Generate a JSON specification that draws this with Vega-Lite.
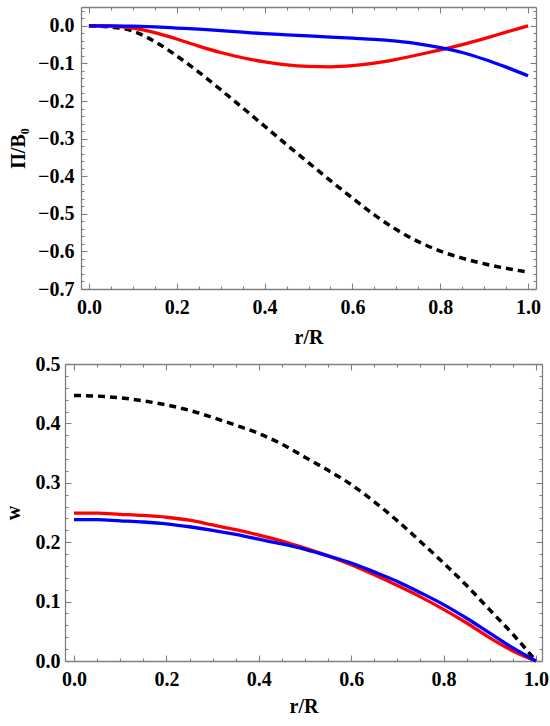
{
  "$schema": "https://vega.github.io/schema/vega-lite/v6.json",
  "background": "#ffffff",
  "padding": {"left": 3, "top": 6, "right": 4, "bottom": 0},
  "spacing": 7,
  "config": {
    "view": {"stroke": null},
    "line": {"interpolate": "monotone"},
    "axis": {
      "labelFont": "Liberation Serif",
      "labelFontWeight": "bold",
      "labelFontSize": 20,
      "labelColor": "#000000",
      "titleFont": "Liberation Serif",
      "titleFontWeight": "bold",
      "titleFontSize": 20,
      "titleColor": "#000000",
      "grid": false,
      "domain": false,
      "domainColor": "#808080",
      "domainWidth": 1.3,
      "labelFlush": false,
      "labelOverlap": false,
      "labelBound": false,
      "tickColor": "#808080",
      "tickWidth": 1.1
    }
  },
  "datasets": {
    "curves": [
      {"panel": "top", "series": "dashed", "r": 0.0, "value": 0.0},
      {"panel": "top", "series": "dashed", "r": 0.05, "value": -0.003},
      {"panel": "top", "series": "dashed", "r": 0.1, "value": -0.014},
      {"panel": "top", "series": "dashed", "r": 0.15, "value": -0.042},
      {"panel": "top", "series": "dashed", "r": 0.2, "value": -0.08},
      {"panel": "top", "series": "dashed", "r": 0.25, "value": -0.123},
      {"panel": "top", "series": "dashed", "r": 0.3, "value": -0.17},
      {"panel": "top", "series": "dashed", "r": 0.35, "value": -0.218},
      {"panel": "top", "series": "dashed", "r": 0.4, "value": -0.267},
      {"panel": "top", "series": "dashed", "r": 0.45, "value": -0.316},
      {"panel": "top", "series": "dashed", "r": 0.5, "value": -0.364},
      {"panel": "top", "series": "dashed", "r": 0.55, "value": -0.412},
      {"panel": "top", "series": "dashed", "r": 0.6, "value": -0.458},
      {"panel": "top", "series": "dashed", "r": 0.65, "value": -0.503},
      {"panel": "top", "series": "dashed", "r": 0.7, "value": -0.542},
      {"panel": "top", "series": "dashed", "r": 0.75, "value": -0.574},
      {"panel": "top", "series": "dashed", "r": 0.8, "value": -0.599},
      {"panel": "top", "series": "dashed", "r": 0.85, "value": -0.618},
      {"panel": "top", "series": "dashed", "r": 0.9, "value": -0.633},
      {"panel": "top", "series": "dashed", "r": 0.95, "value": -0.645},
      {"panel": "top", "series": "dashed", "r": 1.0, "value": -0.655},
      {"panel": "top", "series": "red", "r": 0.0, "value": 0.0},
      {"panel": "top", "series": "red", "r": 0.05, "value": -0.001},
      {"panel": "top", "series": "red", "r": 0.1, "value": -0.006},
      {"panel": "top", "series": "red", "r": 0.15, "value": -0.018},
      {"panel": "top", "series": "red", "r": 0.2, "value": -0.035},
      {"panel": "top", "series": "red", "r": 0.25, "value": -0.054},
      {"panel": "top", "series": "red", "r": 0.3, "value": -0.071},
      {"panel": "top", "series": "red", "r": 0.35, "value": -0.085},
      {"panel": "top", "series": "red", "r": 0.4, "value": -0.096},
      {"panel": "top", "series": "red", "r": 0.45, "value": -0.104},
      {"panel": "top", "series": "red", "r": 0.5, "value": -0.108},
      {"panel": "top", "series": "red", "r": 0.55, "value": -0.109},
      {"panel": "top", "series": "red", "r": 0.6, "value": -0.106},
      {"panel": "top", "series": "red", "r": 0.65, "value": -0.099},
      {"panel": "top", "series": "red", "r": 0.7, "value": -0.089},
      {"panel": "top", "series": "red", "r": 0.75, "value": -0.077},
      {"panel": "top", "series": "red", "r": 0.8, "value": -0.064},
      {"panel": "top", "series": "red", "r": 0.85, "value": -0.05},
      {"panel": "top", "series": "red", "r": 0.9, "value": -0.034},
      {"panel": "top", "series": "red", "r": 0.95, "value": -0.017},
      {"panel": "top", "series": "red", "r": 1.0, "value": 0.0},
      {"panel": "top", "series": "blue", "r": 0.0, "value": 0.0},
      {"panel": "top", "series": "blue", "r": 0.05, "value": 0.0},
      {"panel": "top", "series": "blue", "r": 0.1, "value": -0.001},
      {"panel": "top", "series": "blue", "r": 0.15, "value": -0.003},
      {"panel": "top", "series": "blue", "r": 0.2, "value": -0.006},
      {"panel": "top", "series": "blue", "r": 0.25, "value": -0.009},
      {"panel": "top", "series": "blue", "r": 0.3, "value": -0.013},
      {"panel": "top", "series": "blue", "r": 0.35, "value": -0.017},
      {"panel": "top", "series": "blue", "r": 0.4, "value": -0.021},
      {"panel": "top", "series": "blue", "r": 0.45, "value": -0.024},
      {"panel": "top", "series": "blue", "r": 0.5, "value": -0.027},
      {"panel": "top", "series": "blue", "r": 0.55, "value": -0.03},
      {"panel": "top", "series": "blue", "r": 0.6, "value": -0.033},
      {"panel": "top", "series": "blue", "r": 0.65, "value": -0.036},
      {"panel": "top", "series": "blue", "r": 0.7, "value": -0.041},
      {"panel": "top", "series": "blue", "r": 0.75, "value": -0.048},
      {"panel": "top", "series": "blue", "r": 0.8, "value": -0.058},
      {"panel": "top", "series": "blue", "r": 0.85, "value": -0.071},
      {"panel": "top", "series": "blue", "r": 0.9, "value": -0.089},
      {"panel": "top", "series": "blue", "r": 0.95, "value": -0.11},
      {"panel": "top", "series": "blue", "r": 1.0, "value": -0.133},
      {"panel": "bottom", "series": "dashed", "r": 0.0, "value": 0.447},
      {"panel": "bottom", "series": "dashed", "r": 0.05, "value": 0.446},
      {"panel": "bottom", "series": "dashed", "r": 0.1, "value": 0.443},
      {"panel": "bottom", "series": "dashed", "r": 0.15, "value": 0.438},
      {"panel": "bottom", "series": "dashed", "r": 0.2, "value": 0.431},
      {"panel": "bottom", "series": "dashed", "r": 0.25, "value": 0.422},
      {"panel": "bottom", "series": "dashed", "r": 0.3, "value": 0.41},
      {"panel": "bottom", "series": "dashed", "r": 0.35, "value": 0.397},
      {"panel": "bottom", "series": "dashed", "r": 0.4, "value": 0.383},
      {"panel": "bottom", "series": "dashed", "r": 0.45, "value": 0.365},
      {"panel": "bottom", "series": "dashed", "r": 0.5, "value": 0.343},
      {"panel": "bottom", "series": "dashed", "r": 0.55, "value": 0.321},
      {"panel": "bottom", "series": "dashed", "r": 0.6, "value": 0.297},
      {"panel": "bottom", "series": "dashed", "r": 0.65, "value": 0.268},
      {"panel": "bottom", "series": "dashed", "r": 0.7, "value": 0.236},
      {"panel": "bottom", "series": "dashed", "r": 0.75, "value": 0.201},
      {"panel": "bottom", "series": "dashed", "r": 0.8, "value": 0.165},
      {"panel": "bottom", "series": "dashed", "r": 0.85, "value": 0.127},
      {"panel": "bottom", "series": "dashed", "r": 0.9, "value": 0.086},
      {"panel": "bottom", "series": "dashed", "r": 0.95, "value": 0.045},
      {"panel": "bottom", "series": "dashed", "r": 1.0, "value": 0.0},
      {"panel": "bottom", "series": "red", "r": 0.0, "value": 0.249},
      {"panel": "bottom", "series": "red", "r": 0.05, "value": 0.249},
      {"panel": "bottom", "series": "red", "r": 0.1, "value": 0.247},
      {"panel": "bottom", "series": "red", "r": 0.15, "value": 0.245},
      {"panel": "bottom", "series": "red", "r": 0.2, "value": 0.242},
      {"panel": "bottom", "series": "red", "r": 0.25, "value": 0.237},
      {"panel": "bottom", "series": "red", "r": 0.3, "value": 0.229},
      {"panel": "bottom", "series": "red", "r": 0.35, "value": 0.221},
      {"panel": "bottom", "series": "red", "r": 0.4, "value": 0.212},
      {"panel": "bottom", "series": "red", "r": 0.45, "value": 0.202},
      {"panel": "bottom", "series": "red", "r": 0.5, "value": 0.19},
      {"panel": "bottom", "series": "red", "r": 0.55, "value": 0.177},
      {"panel": "bottom", "series": "red", "r": 0.6, "value": 0.162},
      {"panel": "bottom", "series": "red", "r": 0.65, "value": 0.145},
      {"panel": "bottom", "series": "red", "r": 0.7, "value": 0.127},
      {"panel": "bottom", "series": "red", "r": 0.75, "value": 0.108},
      {"panel": "bottom", "series": "red", "r": 0.8, "value": 0.087},
      {"panel": "bottom", "series": "red", "r": 0.85, "value": 0.064},
      {"panel": "bottom", "series": "red", "r": 0.9, "value": 0.039},
      {"panel": "bottom", "series": "red", "r": 0.95, "value": 0.017},
      {"panel": "bottom", "series": "red", "r": 1.0, "value": 0.0},
      {"panel": "bottom", "series": "blue", "r": 0.0, "value": 0.238},
      {"panel": "bottom", "series": "blue", "r": 0.05, "value": 0.238},
      {"panel": "bottom", "series": "blue", "r": 0.1, "value": 0.236},
      {"panel": "bottom", "series": "blue", "r": 0.15, "value": 0.234},
      {"panel": "bottom", "series": "blue", "r": 0.2, "value": 0.231},
      {"panel": "bottom", "series": "blue", "r": 0.25, "value": 0.226},
      {"panel": "bottom", "series": "blue", "r": 0.3, "value": 0.22},
      {"panel": "bottom", "series": "blue", "r": 0.35, "value": 0.213},
      {"panel": "bottom", "series": "blue", "r": 0.4, "value": 0.205},
      {"panel": "bottom", "series": "blue", "r": 0.45, "value": 0.197},
      {"panel": "bottom", "series": "blue", "r": 0.5, "value": 0.188},
      {"panel": "bottom", "series": "blue", "r": 0.55, "value": 0.177},
      {"panel": "bottom", "series": "blue", "r": 0.6, "value": 0.165},
      {"panel": "bottom", "series": "blue", "r": 0.65, "value": 0.15},
      {"panel": "bottom", "series": "blue", "r": 0.7, "value": 0.134},
      {"panel": "bottom", "series": "blue", "r": 0.75, "value": 0.115},
      {"panel": "bottom", "series": "blue", "r": 0.8, "value": 0.095},
      {"panel": "bottom", "series": "blue", "r": 0.85, "value": 0.072},
      {"panel": "bottom", "series": "blue", "r": 0.9, "value": 0.047},
      {"panel": "bottom", "series": "blue", "r": 0.95, "value": 0.022},
      {"panel": "bottom", "series": "blue", "r": 1.0, "value": 0.0}
    ]
  },
  "data": {"name": "curves"},
  "vconcat": [
    {
      "width": 477,
      "height": 282,
      "transform": [{"filter": "datum.panel === 'top'"}],
      "resolve": {"axis": {"x": "independent", "y": "independent"}},
      "layer": [
        {
          "transform": [{"filter": "datum.series === 'dashed'"}],
          "mark": {"type": "line", "color": "#000000", "strokeWidth": 3.5, "strokeDash": [7, 5]},
          "encoding": {
            "x": {"field": "r", "type": "quantitative",
              "scale": {"domain": [-0.018, 1.018], "range": [16, 471], "nice": false, "zero": false},
              "axis": {"orient": "bottom", "values": [0, 0.2, 0.4, 0.6, 0.8, 1], "format": ".1f", "ticks": false, "domain": true, "labelPadding": 8, "title": "r/R", "titlePadding": 10}},
            "y": {"field": "value", "type": "quantitative",
              "scale": {"domain": [-0.7, 0.05], "nice": false, "zero": false},
              "axis": {"orient": "left", "offset": -16, "values": [-0.7, -0.6, -0.5, -0.4, -0.3, -0.2, -0.1, 0], "format": ".1f", "ticks": false, "domain": true, "labelPadding": 7, "title": "Π/B₀", "titlePadding": 9}}
          }
        },
        {
          "transform": [{"filter": "datum.series === 'red'"}],
          "mark": {"type": "line", "color": "#ff0000", "strokeWidth": 3.3},
          "encoding": {
            "x": {"field": "r", "type": "quantitative",
              "axis": {"orient": "bottom", "values": [0, 0.2, 0.4, 0.6, 0.8, 1], "labels": false, "tickSize": 6, "offset": -6, "title": null}},
            "y": {"field": "value", "type": "quantitative",
              "axis": {"orient": "left", "values": [-0.7, -0.6, -0.5, -0.4, -0.3, -0.2, -0.1, 0], "labels": false, "tickSize": 6, "offset": -22, "title": null}}
          }
        },
        {
          "transform": [{"filter": "datum.series === 'blue'"}],
          "mark": {"type": "line", "color": "#0000ff", "strokeWidth": 3.3},
          "encoding": {
            "x": {"field": "r", "type": "quantitative",
              "axis": {"orient": "bottom", "values": [0.05, 0.1, 0.15, 0.25, 0.3, 0.35, 0.45, 0.5, 0.55, 0.65, 0.7, 0.75, 0.85, 0.9, 0.95], "labels": false, "tickSize": 3, "offset": -3, "title": null}},
            "y": {"field": "value", "type": "quantitative",
              "axis": {"orient": "left", "values": [-0.68, -0.66, -0.64, -0.62, -0.58, -0.56, -0.54, -0.52, -0.48, -0.46, -0.44, -0.42, -0.38, -0.36, -0.34, -0.32, -0.28, -0.26, -0.24, -0.22, -0.18, -0.16, -0.14, -0.12, -0.08, -0.06, -0.04, -0.02, 0.02, 0.04], "labels": false, "tickSize": 3, "offset": -19, "title": null}}
          }
        },
        {
          "mark": {"type": "point", "opacity": 0},
          "encoding": {
            "x": {"field": "r", "type": "quantitative",
              "axis": {"orient": "top", "values": [0, 0.2, 0.4, 0.6, 0.8, 1], "labels": false, "tickSize": 6, "offset": -6, "title": null}},
            "y": {"field": "value", "type": "quantitative",
              "axis": {"orient": "right", "values": [-0.7, -0.6, -0.5, -0.4, -0.3, -0.2, -0.1, 0], "labels": false, "tickSize": 6, "offset": -12, "title": null}}
          }
        },
        {
          "mark": {"type": "point", "opacity": 0},
          "encoding": {
            "x": {"field": "r", "type": "quantitative",
              "axis": {"orient": "top", "values": [0.05, 0.1, 0.15, 0.25, 0.3, 0.35, 0.45, 0.5, 0.55, 0.65, 0.7, 0.75, 0.85, 0.9, 0.95], "labels": false, "tickSize": 3, "offset": -3, "title": null}},
            "y": {"field": "value", "type": "quantitative",
              "axis": {"orient": "right", "values": [-0.68, -0.66, -0.64, -0.62, -0.58, -0.56, -0.54, -0.52, -0.48, -0.46, -0.44, -0.42, -0.38, -0.36, -0.34, -0.32, -0.28, -0.26, -0.24, -0.22, -0.18, -0.16, -0.14, -0.12, -0.08, -0.06, -0.04, -0.02, 0.02, 0.04], "labels": false, "tickSize": 3, "offset": -9, "title": null}}
          }
        },
        {
          "mark": {"type": "point", "opacity": 0},
          "encoding": {
            "x": {"field": "r", "type": "quantitative",
              "axis": {"orient": "top", "labels": false, "ticks": false, "domain": true, "title": null}},
            "y": {"field": "value", "type": "quantitative",
              "axis": {"orient": "right", "labels": false, "ticks": false, "domain": true, "offset": -6, "title": null}}
          }
        }
      ]
    },
    {
      "width": 477,
      "height": 297,
      "transform": [{"filter": "datum.panel === 'bottom'"}],
      "resolve": {"axis": {"x": "independent", "y": "independent"}},
      "layer": [
        {
          "transform": [{"filter": "datum.series === 'dashed'"}],
          "mark": {"type": "line", "color": "#000000", "strokeWidth": 3.5, "strokeDash": [7, 5]},
          "encoding": {
            "x": {"field": "r", "type": "quantitative",
              "scale": {"domain": [-0.0195, 1.013], "nice": false, "zero": false},
              "axis": {"orient": "bottom", "values": [0, 0.2, 0.4, 0.6, 0.8, 1], "format": ".1f", "ticks": false, "domain": true, "labelPadding": 8, "title": "r/R", "titlePadding": 7}},
            "y": {"field": "value", "type": "quantitative",
              "scale": {"domain": [0, 0.5], "nice": false, "zero": false},
              "axis": {"orient": "left", "values": [0, 0.1, 0.2, 0.3, 0.4, 0.5], "format": ".1f", "ticks": false, "domain": true, "labelPadding": 5, "title": "w", "titlePadding": 12}}
          }
        },
        {
          "transform": [{"filter": "datum.series === 'red'"}],
          "mark": {"type": "line", "color": "#ff0000", "strokeWidth": 3.3},
          "encoding": {
            "x": {"field": "r", "type": "quantitative",
              "axis": {"orient": "bottom", "values": [0, 0.2, 0.4, 0.6, 0.8, 1], "labels": false, "tickSize": 6, "offset": -6, "title": null}},
            "y": {"field": "value", "type": "quantitative",
              "axis": {"orient": "left", "values": [0, 0.1, 0.2, 0.3, 0.4, 0.5], "labels": false, "tickSize": 6, "offset": -6, "title": null}}
          }
        },
        {
          "transform": [{"filter": "datum.series === 'blue'"}],
          "mark": {"type": "line", "color": "#0000ff", "strokeWidth": 3.3},
          "encoding": {
            "x": {"field": "r", "type": "quantitative",
              "axis": {"orient": "bottom", "values": [0.05, 0.1, 0.15, 0.25, 0.3, 0.35, 0.45, 0.5, 0.55, 0.65, 0.7, 0.75, 0.85, 0.9, 0.95], "labels": false, "tickSize": 3, "offset": -3, "title": null}},
            "y": {"field": "value", "type": "quantitative",
              "axis": {"orient": "left", "values": [0.02, 0.04, 0.06, 0.08, 0.12, 0.14, 0.16, 0.18, 0.22, 0.24, 0.26, 0.28, 0.32, 0.34, 0.36, 0.38, 0.42, 0.44, 0.46, 0.48], "labels": false, "tickSize": 3, "offset": -3, "title": null}}
          }
        },
        {
          "mark": {"type": "point", "opacity": 0},
          "encoding": {
            "x": {"field": "r", "type": "quantitative",
              "axis": {"orient": "top", "values": [0, 0.2, 0.4, 0.6, 0.8, 1], "labels": false, "tickSize": 6, "offset": -6, "title": null}},
            "y": {"field": "value", "type": "quantitative",
              "axis": {"orient": "right", "values": [0, 0.1, 0.2, 0.3, 0.4, 0.5], "labels": false, "tickSize": 6, "offset": -6, "title": null}}
          }
        },
        {
          "mark": {"type": "point", "opacity": 0},
          "encoding": {
            "x": {"field": "r", "type": "quantitative",
              "axis": {"orient": "top", "values": [0.05, 0.1, 0.15, 0.25, 0.3, 0.35, 0.45, 0.5, 0.55, 0.65, 0.7, 0.75, 0.85, 0.9, 0.95], "labels": false, "tickSize": 3, "offset": -3, "title": null}},
            "y": {"field": "value", "type": "quantitative",
              "axis": {"orient": "right", "values": [0.02, 0.04, 0.06, 0.08, 0.12, 0.14, 0.16, 0.18, 0.22, 0.24, 0.26, 0.28, 0.32, 0.34, 0.36, 0.38, 0.42, 0.44, 0.46, 0.48], "labels": false, "tickSize": 3, "offset": -3, "title": null}}
          }
        },
        {
          "mark": {"type": "point", "opacity": 0},
          "encoding": {
            "x": {"field": "r", "type": "quantitative",
              "axis": {"orient": "top", "labels": false, "ticks": false, "domain": true, "title": null}},
            "y": {"field": "value", "type": "quantitative",
              "axis": {"orient": "right", "labels": false, "ticks": false, "domain": true, "title": null}}
          }
        }
      ]
    }
  ]
}
